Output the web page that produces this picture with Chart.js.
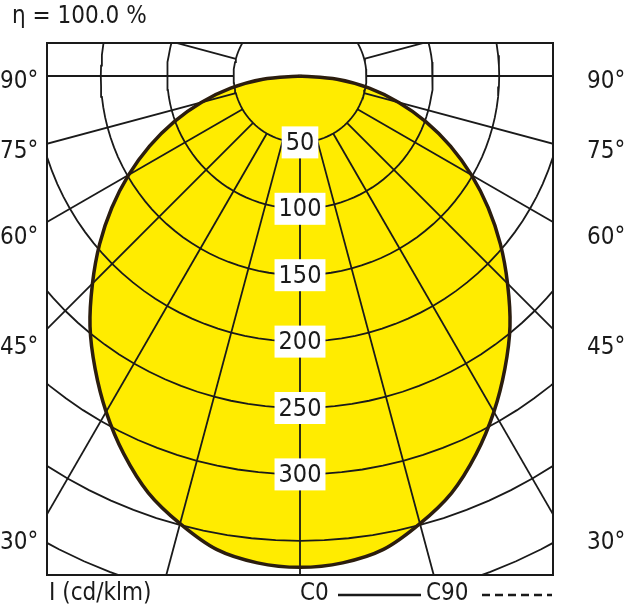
<!DOCTYPE html>
<html>
<head>
<meta charset="utf-8">
<script src="https://cdn.jsdelivr.net/npm/chart.js@4"></script>
<style>
  html, body { margin: 0; padding: 0; background: #fff; }
  #wrap { width: 630px; height: 616px; }
</style>
</head>
<body>
<div id="wrap"><canvas id="polar"></canvas></div>
<script>
// luminous intensity (cd/klm) per angle from nadir, C0 = C90
var angles = [0, 5, 10, 15, 20, 25, 30, 35, 40, 45, 50, 55, 60, 65, 70, 75, 80, 85, 90];
var intensity = [370, 368, 362, 349, 334, 314, 292, 269, 246, 221, 197, 173, 149, 125, 101, 77, 53, 28, 0];
var ringValues = [50, 100, 150, 200, 250, 300, 350, 400];
var ringLabels = ['50', '100', '150', '200', '250', '300'];
var angleLabels = [
    { text: '90°', y: 82 },
    { text: '75°', y: 152 },
    { text: '60°', y: 238 },
    { text: '45°', y: 348 },
    { text: '30°', y: 543 }
];

var FONT = '"Liberation Sans Narrow", "DejaVu Sans Condensed", Roboto, sans-serif';
var INK = '#1a1a1a';
var rad = Math.PI / 180;

// curve: left half from 90 down to 0, then right half 0 to 90
var curve = [];
for (var i = angles.length - 1; i >= 0; i--) {
    curve.push({ x: -intensity[i] * Math.sin(angles[i] * rad), y: -intensity[i] * Math.cos(angles[i] * rad) });
}
for (var i = 1; i < angles.length; i++) {
    curve.push({ x: intensity[i] * Math.sin(angles[i] * rad), y: -intensity[i] * Math.cos(angles[i] * rad) });
}

var datasets = [];
ringValues.forEach(function (r) {
    var pts = [];
    for (var a = 0; a <= 360; a += 3) {
        pts.push({ x: r * Math.sin(a * rad), y: r * Math.cos(a * rad) });
    }
    datasets.push({ data: pts, showLine: true, pointRadius: 0, borderColor: INK, borderWidth: 1.8, order: 2 });
});
for (var a = -165; a <= 180; a += 15) {
    datasets.push({
        data: [{ x: 50 * Math.sin(a * rad), y: -50 * Math.cos(a * rad) },
               { x: 600 * Math.sin(a * rad), y: -600 * Math.cos(a * rad) }],
        showLine: true, pointRadius: 0, borderColor: INK, borderWidth: 1.8, order: 2
    });
}
datasets.push({
    data: curve, showLine: true, pointRadius: 0, borderColor: '#2b1d0e', borderWidth: 3.5,
    order: 0, tension: 0.3
});

// yellow area under the grid, traced through the chart's own scales
var fillCurve = {
    id: 'fillCurve',
    beforeDatasetsDraw: function (chart) {
        var ctx = chart.ctx, xs = chart.scales.x, ys = chart.scales.y;
        ctx.save();
        ctx.beginPath();
        curve.forEach(function (p, k) {
            var px = xs.getPixelForValue(p.x), py = ys.getPixelForValue(p.y);
            if (k === 0) ctx.moveTo(px, py); else ctx.lineTo(px, py);
        });
        ctx.closePath();
        ctx.fillStyle = '#ffec00';
        ctx.fill();
        ctx.restore();
    }
};

var decor = {
    id: 'decor',
    afterDatasetsDraw: function (chart) {
        var ctx = chart.ctx, a = chart.chartArea;
        var xs = chart.scales.x, ys = chart.scales.y;
        ctx.save();
        ctx.font = '25px ' + FONT;
        ctx.textAlign = 'center';
        ctx.textBaseline = 'middle';
        ringLabels.forEach(function (t, k) {
            var px = xs.getPixelForValue(0);
            var py = ys.getPixelForValue(-ringValues[k]);
            var w = ctx.measureText(t).width + 8;
            ctx.fillStyle = '#fff';
            ctx.fillRect(px - w / 2, py - 16, w, 32);
            ctx.fillStyle = INK;
            ctx.fillText(t, px, py + 1);
        });
        ctx.strokeStyle = INK;
        ctx.lineWidth = 2;
        ctx.strokeRect(a.left, a.top, a.right - a.left, a.bottom - a.top);

        ctx.font = '24px ' + FONT;
        ctx.textAlign = 'left';
        angleLabels.forEach(function (l) {
            ctx.fillText(l.text, 0, l.y);
            ctx.fillText(l.text, 587, l.y);
        });
        ctx.fillText('η = 100.0 %', 12, 17);
        ctx.fillText('I (cd/klm)', 49, 594);
        ctx.fillText('C0', 300, 594);
        ctx.fillText('C90', 426, 594);
        ctx.lineWidth = 2.5;
        ctx.beginPath();
        ctx.moveTo(338, 595); ctx.lineTo(421, 595);
        ctx.stroke();
        ctx.setLineDash([8, 5]);
        ctx.beginPath();
        ctx.moveTo(482, 595); ctx.lineTo(552, 595);
        ctx.stroke();
        ctx.restore();
    }
};

var pxPerCd = 66.4 / 50;
new Chart(document.getElementById('polar').getContext('2d'), {
    type: 'scatter',
    data: { datasets: datasets },
    options: {
        responsive: true,
        maintainAspectRatio: false,
        animation: false,
        layout: { padding: { left: 47, right: 77, top: 43, bottom: 41 } },
        plugins: { legend: { display: false }, tooltip: { enabled: false } },
        scales: {
            x: { display: false, min: -253 / pxPerCd, max: 253 / pxPerCd },
            y: { display: false, min: -499 / pxPerCd, max: 33 / pxPerCd }
        }
    },
    plugins: [fillCurve, decor]
});
</script>
</body>
</html>
